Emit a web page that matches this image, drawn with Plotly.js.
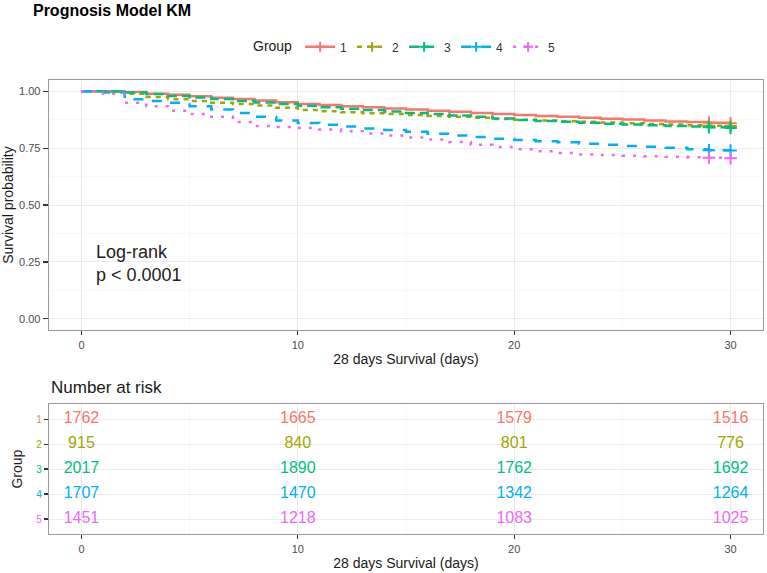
<!DOCTYPE html>
<html>
<head>
<meta charset="utf-8">
<script src="https://cdn.plot.ly/plotly-3.0.1.min.js"></script>
<style>
  html, body { margin: 0; padding: 0; background: #fff; }
  #chart { width: 767px; height: 573px; }
</style>
</head>
<body>
<div id="chart"></div>
<script>
// Kaplan-Meier survival by prognosis group, daily follow-up 0..30
const groups = ['1', '2', '3', '4', '5'];
const groupColors = ['#F8766D', '#A3A500', '#00BF7D', '#00B0F6', '#E76BF3'];
const groupDash = ['solid', '5px,5px', '10px,5px', '10px,10px', '3px,8px'];

const days = [0, 1, 2, 3, 4, 5, 6, 7, 8, 9, 10, 11, 12, 13, 14, 15, 16, 17, 18, 19, 20,
              21, 22, 23, 24, 25, 26, 27, 28, 29, 30];

const survGroup1 = [1.000, 1.000, 0.997, 0.990, 0.985, 0.979, 0.972, 0.966, 0.960, 0.952, 0.945,
                    0.940, 0.935, 0.930, 0.925, 0.920, 0.915, 0.910, 0.905, 0.900, 0.896,
                    0.892, 0.888, 0.884, 0.880, 0.876, 0.872, 0.868, 0.865, 0.862, 0.860];
const survGroup2 = [1.000, 0.998, 0.990, 0.975, 0.965, 0.958, 0.950, 0.944, 0.938, 0.928, 0.918,
                    0.913, 0.908, 0.904, 0.900, 0.896, 0.892, 0.888, 0.884, 0.879, 0.875,
                    0.872, 0.869, 0.866, 0.863, 0.860, 0.857, 0.854, 0.851, 0.849, 0.848];
const survGroup3 = [1.000, 0.999, 0.995, 0.988, 0.980, 0.973, 0.966, 0.958, 0.951, 0.944, 0.937,
                    0.930, 0.924, 0.918, 0.912, 0.905, 0.900, 0.894, 0.888, 0.881, 0.874,
                    0.870, 0.866, 0.862, 0.858, 0.854, 0.851, 0.848, 0.845, 0.842, 0.839];
const survGroup4 = [1.000, 0.995, 0.965, 0.958, 0.950, 0.935, 0.920, 0.905, 0.888, 0.872, 0.861,
                    0.853, 0.845, 0.837, 0.830, 0.822, 0.814, 0.806, 0.799, 0.792, 0.786,
                    0.781, 0.776, 0.770, 0.765, 0.760, 0.756, 0.752, 0.745, 0.741, 0.740];
const survGroup5 = [1.000, 0.990, 0.950, 0.935, 0.915, 0.900, 0.888, 0.865, 0.848, 0.843, 0.839,
                    0.832, 0.825, 0.815, 0.806, 0.797, 0.788, 0.777, 0.765, 0.755, 0.746,
                    0.737, 0.729, 0.722, 0.720, 0.717, 0.715, 0.712, 0.710, 0.708, 0.706];
const survival = [survGroup1, survGroup2, survGroup3, survGroup4, survGroup5];

// censoring marks
const censorDays = [29, 30];

// number-at-risk table
const riskTimes = [0, 10, 20, 30];
const riskGroup1 = [1762, 1665, 1579, 1516];
const riskGroup2 = [915, 840, 801, 776];
const riskGroup3 = [2017, 1890, 1762, 1692];
const riskGroup4 = [1707, 1470, 1342, 1264];
const riskGroup5 = [1451, 1218, 1083, 1025];
const risk = [riskGroup1, riskGroup2, riskGroup3, riskGroup4, riskGroup5];

const xTicks = [0, 10, 20, 30];
const yTicks = [0, 0.25, 0.5, 0.75, 1];

const FONT = 'Liberation Sans, Arial, sans-serif';
const LW = 2.5;

const traces = [];

groups.forEach((g, i) => {
  // step curve
  traces.push({
    x: days, y: survival[i], type: 'scatter', mode: 'lines',
    line: { shape: 'hv', color: groupColors[i], width: LW, dash: groupDash[i] },
    xaxis: 'x', yaxis: 'y', showlegend: false, hoverinfo: 'skip'
  });
  // censor ticks
  traces.push({
    x: censorDays, y: censorDays.map(d => survival[i][days.indexOf(d)]),
    type: 'scatter', mode: 'markers',
    marker: { symbol: 'cross-thin', size: 9, color: groupColors[i],
              line: { color: groupColors[i], width: 2 } },
    xaxis: 'x', yaxis: 'y', showlegend: false, hoverinfo: 'skip'
  });
  // legend key (line + censor mark)
  traces.push({
    x: [null], y: [null], type: 'scatter', mode: 'lines+markers', name: g,
    line: { color: groupColors[i], width: LW, dash: groupDash[i] },
    marker: { symbol: 'cross-thin', size: 7, color: groupColors[i],
              line: { color: groupColors[i], width: 2 } },
    xaxis: 'x', yaxis: 'y', showlegend: true
  });
  // risk table row
  traces.push({
    x: riskTimes, y: riskTimes.map(() => i + 1), text: risk[i].map(String),
    type: 'scatter', mode: 'text',
    textfont: { family: FONT, size: 16, color: groupColors[i] },
    textposition: 'middle center',
    xaxis: 'x2', yaxis: 'y2', showlegend: false, hoverinfo: 'skip'
  });
});

const tickFont = { family: FONT, size: 11, color: '#4D4D4D' };
const titleFont = { family: FONT, size: 14, color: '#1A1A1A' };

const commonX = {
  range: [-1.5, 31.5], tickvals: xTicks, ticktext: xTicks.map(String),
  ticks: 'outside', ticklen: 4, tickcolor: '#333', tickwidth: 1.2,
  showline: true, mirror: true, linecolor: '#9A9A9A', linewidth: 1.3,
  showgrid: true, gridcolor: '#EBEBEB', gridwidth: 1,
  minor: { dtick: 5, showgrid: true, gridcolor: '#F4F4F4', gridwidth: 0.6 },
  zeroline: false, tickfont: tickFont,
  title: { text: '28 days Survival (days)', font: titleFont, standoff: 4 }
};

const layout = {
  width: 767, height: 573,
  paper_bgcolor: '#fff', plot_bgcolor: '#fff',
  margin: { l: 49, r: 4, t: 80, b: 39 },
  font: { family: FONT },
  title: {
    text: '<b>Prognosis Model KM</b>',
    font: { family: FONT, size: 16, color: '#000' },
    x: 0.043, xanchor: 'left', y: 0.981, yanchor: 'middle', xref: 'container', yref: 'container'
  },
  showlegend: true,
  legend: {
    orientation: 'h', x: 0.5, xanchor: 'center', y: 1.073, yanchor: 'middle',
    title: { text: 'Group', side: 'left', font: { family: FONT, size: 14, color: '#1A1A1A' } },
    font: { family: FONT, size: 12, color: '#333' },
    itemwidth: 30, tracegroupgap: 0, bgcolor: 'rgba(0,0,0,0)'
  },
  xaxis: Object.assign({}, commonX, { domain: [0, 1], anchor: 'y' }),
  yaxis: {
    domain: [0.449, 1], anchor: 'x', range: [-0.05, 1.05],
    tickvals: yTicks, ticktext: yTicks.map(v => v.toFixed(2)),
    ticks: 'outside', ticklen: 5, tickcolor: '#333', tickwidth: 1.2,
    showline: true, mirror: true, linecolor: '#9A9A9A', linewidth: 1.3,
    showgrid: true, gridcolor: '#EBEBEB', gridwidth: 1,
    minor: { dtick: 0.125, showgrid: true, gridcolor: '#F4F4F4', gridwidth: 0.6 },
    zeroline: false, tickfont: tickFont,
    title: { text: 'Survival probability', font: titleFont, standoff: 2 }
  },
  xaxis2: Object.assign({}, commonX, { domain: [0, 1], anchor: 'y2' }),
  yaxis2: {
    domain: [0, 0.286], anchor: 'x2', range: [5.6, 0.4],
    tickvals: [1, 2, 3, 4, 5],
    ticktext: groups.map((g, i) => '<span style="color:' + groupColors[i] + '">' + g + '</span>'),
    ticks: 'outside', ticklen: 4, tickcolor: '#333', tickwidth: 1.2,
    showline: true, mirror: true, linecolor: '#9A9A9A', linewidth: 1.3,
    showgrid: true, gridcolor: '#EBEBEB', gridwidth: 1,
    zeroline: false, tickfont: { family: FONT, size: 10, color: '#4D4D4D' },
    title: { text: 'Group', font: titleFont, standoff: 10 }
  },
  annotations: [
    {
      text: 'Log-rank<br>p < 0.0001', xref: 'x', yref: 'y', x: 0.6, y: 0.242,
      xanchor: 'left', yanchor: 'middle', align: 'left', showarrow: false,
      font: { family: FONT, size: 18, color: '#222' }
    },
    {
      text: 'Number at risk', xref: 'paper', yref: 'paper', x: 0, y: 0.3216,
      xanchor: 'left', yanchor: 'middle', showarrow: false,
      font: { family: FONT, size: 17, color: '#1A1A1A' }
    }
  ]
};

Plotly.newPlot('chart', traces, layout, { displayModeBar: false, staticPlot: true });
</script>
</body>
</html>
